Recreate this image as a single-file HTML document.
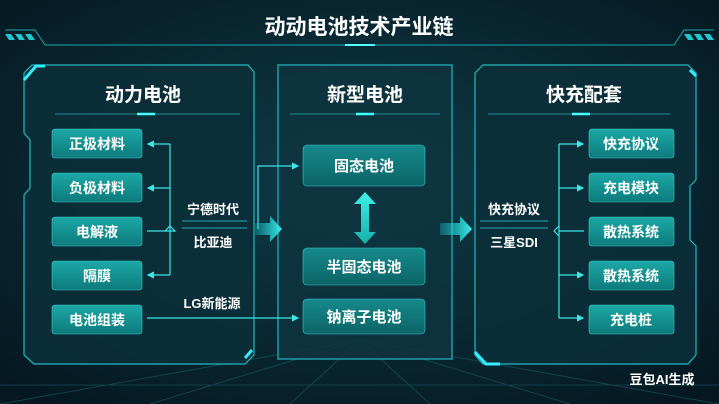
<!DOCTYPE html>
<html><head><meta charset="utf-8"><style>
html,body{margin:0;padding:0;width:719px;height:404px;overflow:hidden;background:#06202b}
svg{display:block}
text{font-family:"Liberation Sans","Noto Sans CJK SC",sans-serif;fill:#fff;font-weight:bold}
</style></head><body>
<svg width="719" height="404" viewBox="0 0 719 404">
<defs>
<radialGradient id="bg" cx="50%" cy="45%" r="70%"><stop offset="0" stop-color="#0f3c48"/><stop offset="1" stop-color="#051821"/></radialGradient>
<linearGradient id="box" x1="0" y1="0" x2="0" y2="1"><stop offset="0" stop-color="#1ca8a6"/><stop offset="1" stop-color="#0d7a7c"/></linearGradient>
<linearGradient id="box2" x1="0" y1="0" x2="0" y2="1"><stop offset="0" stop-color="#168a8c"/><stop offset="1" stop-color="#0c6466"/></linearGradient>
<linearGradient id="arr" x1="0" y1="0" x2="1" y2="0"><stop offset="0" stop-color="#1bc9d0" stop-opacity="0.3"/><stop offset="1" stop-color="#36f0f0"/></linearGradient>
<linearGradient id="varr" x1="0" y1="0" x2="0" y2="1"><stop offset="0" stop-color="#3ef0ea"/><stop offset="1" stop-color="#17b0aa"/></linearGradient>
<marker id="ah" markerWidth="6" markerHeight="6" refX="5" refY="3" orient="auto"><path d="M0,0 L6,3 L0,6 z" fill="#3ee6e6"/></marker>
</defs>
<rect width="719" height="404" fill="url(#bg)"/>
<g stroke="#1a5a66" stroke-width="1" opacity="0.6">
<line x1="360" y1="340" x2="0" y2="404"/><line x1="360" y1="340" x2="150" y2="404"/><line x1="360" y1="340" x2="290" y2="404"/><line x1="360" y1="340" x2="430" y2="404"/><line x1="360" y1="340" x2="570" y2="404"/><line x1="360" y1="340" x2="719" y2="404"/>
<line x1="0" y1="385" x2="719" y2="385"/>
</g>
<text x="359" y="34" font-size="21" text-anchor="middle">动动电池技术产业链</text>
<line x1="235" y1="45" x2="485" y2="45" stroke="#1aa6b0" stroke-width="1"/>
<line x1="345" y1="45" x2="375" y2="45" stroke="#5ff" stroke-width="2"/>
<path d="M5,30 L35,30 L45,45 L235,45" stroke="#1aa6b0" fill="none"/>
<path d="M714,30 L684,30 L674,45 L485,45" stroke="#1aa6b0" fill="none"/>
<g fill="#22c8cf"><path d="M5,34h6l4,6h-6z M15,34h6l4,6h-6z M25,34h6l4,6h-6z"/><path d="M694,34h6l4,6h-6z M684,34h6l4,6h-6z M704,34h6l4,6h-6z"/></g>
<path d="M32,65 L248,65 L254,72 L254,355 L245,364 L34,364 L24,355 L24,195 L30,188 L30,140 L24,133 L24,73 Z" fill="#0c2f3a" fill-opacity="0.85" stroke="#24b8c0" stroke-width="1.2"/>
<path d="M24,80 L36,66 L45,66" stroke="#3ef" stroke-width="3" fill="none"/>
<path d="M245,358 L252,350" stroke="#3ef" stroke-width="3"/>
<rect x="278" y="65" width="174" height="294" fill="#0e3440" fill-opacity="0.85" stroke="#24b8c0" stroke-width="1.2"/>
<path d="M483,65 L688,65 L696,73 L696,180 L690,186 L690,240 L696,246 L696,355 L688,364 L483,364 L475,355 L475,73 Z" fill="#0c2f3a" fill-opacity="0.85" stroke="#24b8c0" stroke-width="1.2"/>
<path d="M475,352 L486,364 L500,364" stroke="#3ef" stroke-width="3" fill="none"/>
<path d="M690,70 L696,76" stroke="#3ef" stroke-width="3"/>
<text x="143" y="101" font-size="19" text-anchor="middle">动力电池</text>
<text x="365" y="101" font-size="19" text-anchor="middle">新型电池</text>
<text x="584" y="101" font-size="19" text-anchor="middle">快充配套</text>
<g stroke="#1f8d98" stroke-width="1"><line x1="55" y1="114" x2="240" y2="114"/><line x1="290" y1="114" x2="440" y2="114"/><line x1="488" y1="114" x2="670" y2="114"/></g>
<g stroke="#4ff" stroke-width="2.5"><line x1="137" y1="114" x2="155" y2="114"/><line x1="356" y1="114" x2="374" y2="114"/><line x1="572" y1="114" x2="590" y2="114"/></g>
<g stroke="#38c9c9" stroke-width="0.6">
<rect x="52" y="129" width="90" height="29" rx="3" fill="url(#box)"/>
<rect x="52" y="173" width="90" height="29" rx="3" fill="url(#box)"/>
<rect x="52" y="217" width="90" height="29" rx="3" fill="url(#box)"/>
<rect x="52" y="261" width="90" height="29" rx="3" fill="url(#box)"/>
<rect x="52" y="305" width="90" height="29" rx="3" fill="url(#box)"/>
</g>
<g font-size="14" text-anchor="middle">
<text x="97" y="149">正极材料</text><text x="97" y="193">负极材料</text><text x="97" y="237">电解液</text><text x="97" y="281">隔膜</text><text x="97" y="325">电池组装</text>
</g>
<g stroke="#3ee6e6" stroke-width="1.2" fill="none">
<path d="M170,144 L170,275"/>
<path d="M170,144 L148,144" marker-end="url(#ah)"/>
<path d="M170,188 L148,188" marker-end="url(#ah)"/>
<path d="M170,275 L148,275" marker-end="url(#ah)"/>
<path d="M147,231 L165,231 L170,226 L175,231 L165,231"/>
<path d="M147,318 L298,318" marker-end="url(#ah)"/>
<path d="M258,229 L258,166 L298,166" marker-end="url(#ah)"/>
</g>
<g stroke="#2aa9b0" stroke-width="1"><line x1="182" y1="221" x2="247" y2="221"/><line x1="182" y1="228" x2="247" y2="228"/>
<line x1="480" y1="221" x2="548" y2="221"/><line x1="480" y1="228" x2="548" y2="228"/></g>
<g font-size="13" text-anchor="middle">
<text x="213" y="214">宁德时代</text><text x="213" y="247">比亚迪</text><text x="212" y="308">LG新能源</text>
<text x="514" y="214">快充协议</text><text x="514" y="247">三星SDI</text>
</g>
<path d="M255,223 L270,223 L270,216 L282,229 L270,242 L270,235 L255,235 Z" fill="url(#arr)"/>
<path d="M440,223 L460,223 L460,216 L472,229 L460,242 L460,235 L440,235 Z" fill="url(#arr)"/>
<g stroke="#38c9c9" stroke-width="0.6">
<rect x="303" y="145" width="122" height="41" rx="4" fill="url(#box2)"/>
<rect x="303" y="248" width="122" height="37" rx="4" fill="url(#box2)"/>
<rect x="303" y="299" width="122" height="35" rx="4" fill="url(#box2)"/>
</g>
<g font-size="15" text-anchor="middle">
<text x="364" y="171">固态电池</text><text x="364" y="272">半固态电池</text><text x="364" y="322">钠离子电池</text>
</g>
<path d="M365,192 L376,204 L369,204 L369,232 L376,232 L365,244 L354,232 L361,232 L361,204 L354,204 Z" fill="url(#varr)"/>
<g stroke="#38c9c9" stroke-width="0.6">
<rect x="589" y="129" width="85" height="29" rx="3" fill="url(#box)"/>
<rect x="589" y="173" width="85" height="29" rx="3" fill="url(#box)"/>
<rect x="589" y="217" width="85" height="29" rx="3" fill="url(#box)"/>
<rect x="589" y="261" width="85" height="29" rx="3" fill="url(#box)"/>
<rect x="589" y="305" width="85" height="29" rx="3" fill="url(#box)"/>
</g>
<g font-size="14" text-anchor="middle">
<text x="631" y="149">快充协议</text><text x="631" y="193">充电模块</text><text x="631" y="237">散热系统</text><text x="631" y="281">散热系统</text><text x="631" y="325">充电桩</text>
</g>
<g stroke="#3ee6e6" stroke-width="1.2" fill="none">
<path d="M559,144 L559,318"/>
<path d="M559,144 L583,144" marker-end="url(#ah)"/>
<path d="M559,188 L583,188" marker-end="url(#ah)"/>
<path d="M559,275 L583,275" marker-end="url(#ah)"/>
<path d="M559,318 L583,318" marker-end="url(#ah)"/>
<path d="M559,226 L554,231 L559,236"/>
<path d="M559,231 L584,231"/>
</g>
<text x="662" y="384" font-size="13" text-anchor="middle" fill="#e8f4f4">豆包AI生成</text>
</svg>
</body></html>
